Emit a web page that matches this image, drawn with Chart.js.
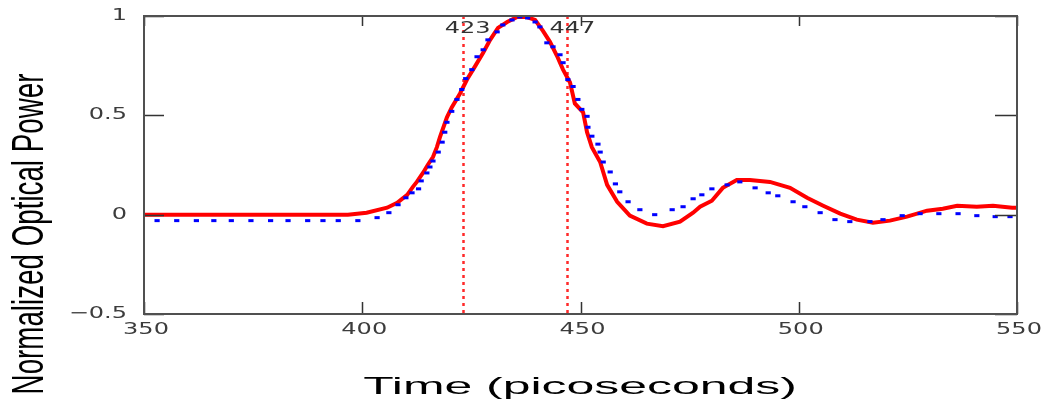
<!DOCTYPE html>
<html>
<head>
<meta charset="utf-8">
<title>Normalized Optical Power</title>
<script src="https://cdn.jsdelivr.net/npm/chart.js@4.4.0/dist/chart.umd.min.js"></script>
<style>
  html, body { margin: 0; padding: 0; background: #fff; }
  #pulseChart { display: block; }
</style>
</head>
<body>
<canvas id="pulseChart" width="1044" height="406"></canvas>
<script>
// --- Datos del gráfico ---
const xTicks = [350, 400, 450, 500, 550];
const yTicks = [-0.5, 0, 0.5, 1];
const markerTimes = [423, 447];

// Curva medida (línea roja)
const measuredTime = [
  350, 360, 370, 380, 390, 396.7, 401, 405.7, 408, 410.3, 411.6, 412.5, 413.9, 415, 416.2,
  417.1, 417.8, 418.6, 419.4, 420.5, 422.4, 424, 425.8, 427.7, 429.3, 431.1, 433.2, 435.5, 437.7,
  439.6, 441.4, 443, 444.6, 446, 447.6, 448.7, 450.6, 451.5, 452.6, 454.5, 456.1, 458.4,
  461.3, 465.2, 468.9, 472.8, 475.8, 477.4, 480.1, 482.6, 485.8, 488.8, 493.4, 498, 501.9,
  505.6, 509.5, 513.3, 517, 520.9, 524.8, 529.4, 533, 536.3, 540.8, 544.5, 548.9, 550
];
const measuredPower = [
  0, 0, 0, 0, 0, 0, 0.01, 0.035, 0.06, 0.1, 0.14, 0.165, 0.21, 0.25, 0.29,
  0.34, 0.39, 0.44, 0.49, 0.54, 0.61, 0.68, 0.745, 0.815, 0.88, 0.94, 0.97, 0.995, 0.995,
  0.98, 0.925, 0.87, 0.8, 0.73, 0.665, 0.56, 0.515, 0.415, 0.34, 0.265, 0.15, 0.065,
  -0.005, -0.045, -0.058, -0.035, 0.01, 0.04, 0.07, 0.135, 0.175, 0.175, 0.165, 0.135, 0.085,
  0.045, 0.005, -0.025, -0.04, -0.03, -0.01, 0.02, 0.03, 0.045, 0.04, 0.045, 0.035, 0.035
];

// Curva simulada (puntos azules)
const simulatedTime = [
  353, 357.5, 362, 366, 370, 374.5, 379, 383, 387.5, 391, 394.5, 399, 403.4, 406.1, 408.2,
  410, 411.4, 412.9, 413.5, 414.8, 415.5, 416.2, 417.4, 418.3, 418.9, 419.4, 420.5, 421.7,
  422.8, 423.7, 425.1, 426.3, 427.7, 428.8, 430.9, 432.2, 434.3, 436.1, 437.9, 439.6, 440.7,
  442.3, 443.7, 445.3, 446, 447.1, 448.3, 449.4, 450.3, 451.5, 451.7, 452.6, 454, 454.5,
  455.2, 456.8, 458, 459, 460.9, 463.6, 467, 471, 473.5, 475.8, 477.8, 480.1, 483.6, 486.5,
  490, 493, 495.2, 498.7, 501.4, 504.9, 508.3, 511.7, 516.3, 519.3, 523.7, 527.8, 532.1,
  536.5, 540.8, 545, 548.4
];
const simulatedPower = [
  -0.03, -0.03, -0.03, -0.03, -0.03, -0.03, -0.03, -0.03, -0.03, -0.03, -0.03, -0.03, -0.015, 0.01, 0.05,
  0.085, 0.11, 0.13, 0.17, 0.21, 0.24, 0.27, 0.315, 0.365, 0.415, 0.465, 0.52, 0.58,
  0.63, 0.685, 0.73, 0.795, 0.83, 0.88, 0.92, 0.955, 0.98, 0.995, 0.99, 0.97, 0.945,
  0.865, 0.845, 0.805, 0.765, 0.68, 0.645, 0.58, 0.53, 0.495, 0.44, 0.395, 0.355, 0.315,
  0.265, 0.215, 0.155, 0.115, 0.065, 0.025, 0, 0.025, 0.04, 0.08, 0.1, 0.13, 0.15, 0.165,
  0.135, 0.11, 0.095, 0.065, 0.04, 0.01, -0.025, -0.035, -0.035, -0.025, -0.005, 0.005, 0.005,
  0.005, -0.005, -0.01, -0.01
];

function toPoints(xs, ys) {
  return xs.map((x, i) => ({ x: x, y: ys[i] }));
}

/**
 * Escribe texto con escala horizontal/vertical propia (el original está estirado).
 */
function drawStretchedText(ctx, text, x, y, opts) {
  ctx.save();
  ctx.translate(x, y);
  if (opts.rotate) ctx.rotate(opts.rotate);
  ctx.scale(opts.sx || 1, opts.sy || 1);
  ctx.font = opts.font;
  ctx.fillStyle = opts.color || '#000';
  ctx.textAlign = opts.align || 'center';
  ctx.textBaseline = opts.baseline || 'middle';
  ctx.fillText(text, 0, 0);
  ctx.restore();
}

function formatTick(v) {
  return v < 0 ? '\u2212' + Math.abs(v) : String(v);
}

// Marco, marcas interiores, etiquetas y líneas punteadas
const framePlugin = {
  id: 'mathcadFrame',
  beforeDatasetsDraw(chart) {
    const { ctx, chartArea: a, scales } = chart;
    ctx.save();
    ctx.strokeStyle = '#ff2a2a';
    ctx.lineWidth = 2.5;
    ctx.setLineDash([3, 4]);
    markerTimes.forEach(t => {
      const px = Math.round(scales.x.getPixelForValue(t)) + 0.5;
      ctx.beginPath();
      ctx.moveTo(px, a.top);
      ctx.lineTo(px, a.bottom);
      ctx.stroke();
    });
    ctx.restore();
  },
  afterDatasetsDraw(chart) {
    const { ctx, chartArea: a, scales } = chart;
    const tickFont = '16px "DejaVu Sans"';

    ctx.save();
    // Marcas interiores
    ctx.strokeStyle = '#333';
    ctx.lineWidth = 1.5;
    ctx.beginPath();
    yTicks.forEach(v => {
      const py = Math.round(scales.y.getPixelForValue(v)) + 0.5;
      ctx.moveTo(a.left, py); ctx.lineTo(a.left + 20, py);
      ctx.moveTo(a.right, py); ctx.lineTo(a.right - 22, py);
    });
    xTicks.forEach(v => {
      const px = Math.round(scales.x.getPixelForValue(v)) + 0.5;
      ctx.moveTo(px, a.bottom); ctx.lineTo(px, a.bottom - 12);
      ctx.moveTo(px, a.top); ctx.lineTo(px, a.top + 10);
    });
    ctx.stroke();

    // Marco
    ctx.strokeStyle = '#505050';
    ctx.lineWidth = 2;
    ctx.strokeRect(a.left, a.top, a.right - a.left, a.bottom - a.top);
    ctx.restore();

    // Etiquetas de ejes
    yTicks.forEach(v => {
      drawStretchedText(ctx, formatTick(v), a.left - 17, scales.y.getPixelForValue(v), {
        font: tickFont, color: '#3c3c3c', sx: 1.5, align: 'right'
      });
    });
    xTicks.forEach(v => {
      drawStretchedText(ctx, formatTick(v), scales.x.getPixelForValue(v) + 2, a.bottom + 16, {
        font: tickFont, color: '#3c3c3c', sx: 1.5
      });
    });

    // Anotaciones de las líneas punteadas
    markerTimes.forEach(t => {
      drawStretchedText(ctx, String(t), scales.x.getPixelForValue(t) + 5, a.top + 13, {
        font: tickFont, color: '#333', sx: 1.5
      });
    });

    // Títulos
    drawStretchedText(ctx, 'Time (picoseconds)', 580, 394, {
      font: '24px "Liberation Sans"', color: '#000', sx: 2.08, sy: 1.0, baseline: 'alphabetic'
    });
    drawStretchedText(ctx, 'Normalized Optical Power', 31, 234, {
      font: '30px "Liberation Sans"', color: '#000', rotate: -Math.PI / 2, sx: 0.925, sy: 1.49
    });
  }
};

function renderPulseChart() {
  const ctx = document.getElementById('pulseChart');
  if (!ctx) return;

  new Chart(ctx, {
    type: 'scatter',
    data: {
      datasets: [
        {
          label: 'Simulated',
          data: toPoints(simulatedTime, simulatedPower),
          showLine: false,
          pointStyle: 'line',
          pointRadius: 2.6,
          pointBorderWidth: 3,
          borderColor: '#0000ff',
          backgroundColor: '#0000ff'
        },
        {
          label: 'Measured',
          data: toPoints(measuredTime, measuredPower),
          showLine: true,
          borderColor: '#ff0000',
          borderWidth: 4,
          pointRadius: 0,
          tension: 0
        }
      ]
    },
    options: {
      responsive: false,
      animation: false,
      events: [],
      layout: { padding: { left: 144, top: 16, right: 27, bottom: 92 } },
      scales: {
        x: { type: 'linear', min: 350, max: 550, display: false },
        y: { type: 'linear', min: -0.5, max: 1, display: false }
      },
      plugins: {
        legend: { display: false },
        tooltip: { enabled: false }
      }
    },
    plugins: [framePlugin]
  });
}

document.addEventListener('DOMContentLoaded', () => {
  renderPulseChart();
});
</script>
</body>
</html>
